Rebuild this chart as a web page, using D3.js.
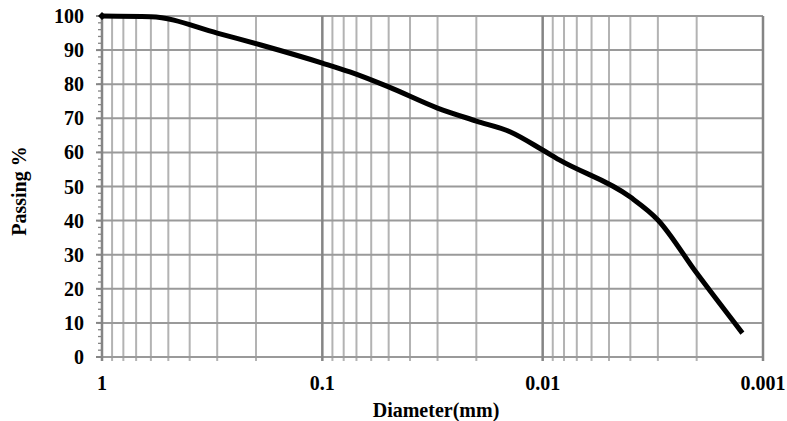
<!DOCTYPE html>
<html>
<head>
<meta charset="utf-8">
<script src="https://cdn.jsdelivr.net/npm/d3@7"></script>
<style>
  body { margin: 0; background: #fff; }
  text { font-family: "Liberation Serif", "Times New Roman", serif; font-weight: bold; fill: #000; }
</style>
</head>
<body>
<div id="chart"></div>
<script>
// grain size data
const diameters = [1, 0.6, 0.3, 0.19, 0.1, 0.075, 0.05, 0.03, 0.02, 0.014, 0.01, 0.0084, 0.004, 0.003, 0.002, 0.00124];
const passing = [100, 99.8, 95, 91.5, 86.2, 83.6, 79.2, 73, 69.2, 66, 60.7, 57.8, 46.9, 40.2, 24.6, 7];
const xTicks = [1, 0.1, 0.01, 0.001];
const yTicks = [0, 10, 20, 30, 40, 50, 60, 70, 80, 90, 100];

const W = 787, H = 421;
const margin = { top: 16, right: 24, bottom: 64, left: 102 };
const width = W - margin.left - margin.right;
const height = H - margin.top - margin.bottom;

const svg = d3.select("#chart").append("svg")
    .attr("width", W).attr("height", H);
const g = svg.append("g").attr("transform", `translate(${margin.left},${margin.top})`);

const x = d3.scaleLog().domain([1, 0.001]).range([0, width]);
const y = d3.scaleLinear().domain([0, 100]).range([height, 0]);

// minor vertical grid (2..9 in each decade)
const minor = [];
[1, 0.1, 0.01].forEach(dec => {
    for (let k = 2; k <= 9; k++) minor.push(dec / 10 * k);
});

g.append("g").selectAll("line").data(minor).join("line")
    .attr("x1", d => x(d)).attr("x2", d => x(d))
    .attr("y1", 0).attr("y2", height + 4)
    .attr("stroke", "#b3b3b3").attr("stroke-width", 2);

// horizontal grid
g.append("g").selectAll("line").data(yTicks).join("line")
    .attr("x1", 0).attr("x2", width)
    .attr("y1", d => y(d)).attr("y2", d => y(d))
    .attr("stroke", "#9a9a9a").attr("stroke-width", 2);

// decade lines
g.append("g").selectAll("line").data(xTicks).join("line")
    .attr("x1", d => x(d)).attr("x2", d => x(d))
    .attr("y1", 0).attr("y2", height + 4)
    .attr("stroke", "#858585").attr("stroke-width", 2.5);

// y minor ticks on left axis
const yMinor = d3.range(0, 101, 2);
g.append("g").selectAll("line").data(yMinor).join("line")
    .attr("x1", -4).attr("x2", 0)
    .attr("y1", d => y(d)).attr("y2", d => y(d))
    .attr("stroke", "#858585").attr("stroke-width", 1.3);
g.append("g").selectAll("line").data(yTicks).join("line")
    .attr("x1", -6).attr("x2", 0)
    .attr("y1", d => y(d)).attr("y2", d => y(d))
    .attr("stroke", "#858585").attr("stroke-width", 2);

// y tick labels
g.append("g").selectAll("text").data(yTicks).join("text")
    .attr("x", -18).attr("y", d => y(d))
    .attr("dy", "0.35em").attr("text-anchor", "end")
    .style("font-size", "20px")
    .text(d => d);

// x tick labels
g.append("g").selectAll("text").data(xTicks).join("text")
    .attr("x", d => x(d)).attr("y", height + 33)
    .attr("text-anchor", "middle")
    .style("font-size", "20px")
    .text(d => d);

// axis titles
svg.append("text")
    .attr("x", 436).attr("y", 417)
    .attr("text-anchor", "middle")
    .style("font-size", "20px")
    .text("Diameter(mm)");

svg.append("text")
    .attr("transform", `translate(26,191) rotate(-90)`)
    .attr("text-anchor", "middle")
    .style("font-size", "20px")
    .text("Passing %");

// curve
const pts = diameters.map((d, i) => [d, passing[i]]);
const line = d3.line()
    .x(d => x(d[0])).y(d => y(d[1]))
    .curve(d3.curveMonotoneX);

g.append("path")
    .datum(pts)
    .attr("d", line)
    .attr("fill", "none")
    .attr("stroke", "#000")
    .attr("stroke-width", 5);

// end marker at the first point
g.append("path")
    .attr("transform", `translate(${x(pts[0][0])},${y(pts[0][1])})`)
    .attr("d", d3.symbol(d3.symbolDiamond2, 40))
    .attr("fill", "#000");
</script>
</body>
</html>
